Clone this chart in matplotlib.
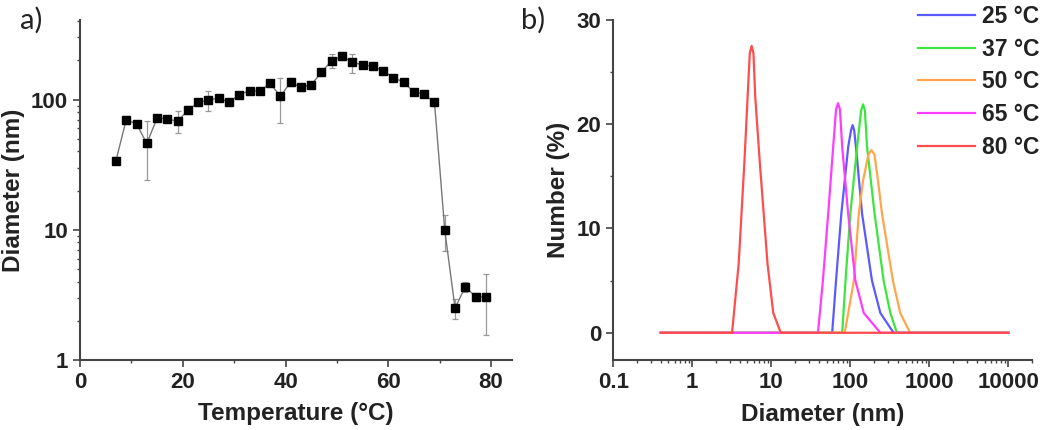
import matplotlib
matplotlib.use("Agg")
import matplotlib.pyplot as plt
from matplotlib.ticker import FixedLocator, LogLocator, NullFormatter, FuncFormatter

plt.rcParams["font.family"] = ["Liberation Sans", "DejaVu Sans"]
plt.rcParams["font.weight"] = "bold"
plt.rcParams["axes.labelweight"] = "bold"

# panel a: hydrodynamic diameter vs temperature
temperature = [7, 9, 11, 13, 15, 17, 19, 21, 23, 25, 27, 29, 31, 33, 35, 37, 39,
               41, 43, 45, 47, 49, 51, 53, 55, 57, 59, 61, 63, 65, 67, 69, 71,
               73, 75, 77, 79]
diameter = [34, 70, 65, 46, 72, 71, 68, 83, 95, 99, 103, 95, 109, 117, 116, 133,
            106, 136, 124, 130, 162, 199, 215, 193, 185, 180, 167, 147, 136, 114,
            110, 95, 9.9, 2.5, 3.65, 3.05, 3.05]
diameter_err = [2, 5, 4, 22, 4, 4, 13, 6, 5, 17, 5, 4, 5, 6, 5, 7, 40, 10, 7, 6,
                10, 25, 15, 32, 8, 7, 7, 6, 6, 5, 5, 5, 3, 0.45, 0.35, 0.2, 1.5]

# panel b: number distributions at selected temperatures
labels = ["25 °C", "37 °C", "50 °C", "65 °C", "80 °C"]
colors = ["#5a5aff", "#3ce63c", "#ffa64d", "#ff3cff", "#ff4d4d"]

size_25 = [0.4, 59, 66, 77, 94, 102, 107, 112, 118, 141, 188, 240, 353, 10000]
num_25 = [0, 0, 5.0, 11.4, 17.8, 19.4, 19.9, 19.4, 17.8, 11.4, 5.0, 1.9, 0, 0]
size_37 = [0.4, 79, 87, 100, 122, 137, 145, 153, 163, 203, 264, 321, 389, 10000]
num_37 = [0, 0, 5.0, 11.4, 17.8, 21.3, 21.9, 21.3, 17.8, 11.4, 5.0, 1.9, 0, 0]
size_50 = [0.4, 85, 111, 128, 145, 170, 185, 202, 224, 252, 346, 428, 572, 10000]
num_50 = [0, 0, 5.0, 11.4, 14.6, 17.1, 17.5, 17.1, 14.6, 11.4, 5.0, 1.9, 0, 0]
size_65 = [0.4, 39, 45, 52.5, 60.7, 66, 70, 74, 79, 94, 116, 148, 240, 10000]
num_65 = [0, 0, 5.0, 11.4, 17.8, 21.4, 22.0, 21.4, 17.8, 11.4, 5.0, 1.9, 0, 0]
size_80 = [0.4, 3.19, 3.87, 4.56, 5.02, 5.35, 5.64, 5.95, 6.27, 7.18, 8.97, 10.6,
           13.2, 10000]
num_80 = [0, 0, 6.6, 16.2, 22.6, 26.8, 27.5, 26.8, 22.6, 16.2, 6.6, 1.9, 0, 0]

sizes = [size_25, size_37, size_50, size_65, size_80]
numbers = [num_25, num_37, num_50, num_65, num_80]

fig = plt.figure(figsize=(10.5, 4.3), dpi=100)
ax_a = fig.add_axes([0.0762, 0.163, 0.411, 0.791])
ax_b = fig.add_axes([0.584, 0.163, 0.399, 0.791])

spine_col = "#444444"
text_col = "#222222"

for ax in (ax_a, ax_b):
    for side in ("top", "right"):
        ax.spines[side].set_visible(False)
    for side in ("left", "bottom"):
        ax.spines[side].set_color(spine_col)
        ax.spines[side].set_linewidth(1.5)
    ax.tick_params(which="major", direction="out", length=5, width=1.2,
                   colors=spine_col, labelcolor=text_col, labelsize=16)
    ax.tick_params(which="minor", direction="out", length=2.5, width=1,
                   colors=spine_col)

# panel a
ax_a.plot(temperature, diameter, color="#777777", linewidth=1.0, zorder=2)
ax_a.errorbar(temperature, diameter, yerr=diameter_err, fmt="none",
              ecolor="#999999", elinewidth=0.9, capsize=2.5, capthick=0.9,
              zorder=1)
ax_a.plot(temperature, diameter, linestyle="none", marker="s", markersize=5.2,
          color="black", zorder=3)
ax_a.set_yscale("log")
ax_a.set_xlim(0, 84)
ax_a.set_ylim(1, 410)
ax_a.xaxis.set_major_locator(FixedLocator([0, 20, 40, 60, 80]))
ax_a.xaxis.set_minor_locator(FixedLocator([10, 30, 50, 70]))
ax_a.yaxis.set_major_locator(FixedLocator([1, 10, 100]))
ax_a.yaxis.set_major_formatter(FuncFormatter(lambda v, p: f"{v:g}"))
ax_a.yaxis.set_minor_locator(LogLocator(base=10, subs=range(2, 10)))
ax_a.yaxis.set_minor_formatter(NullFormatter())
ax_a.set_xlabel("Temperature (°C)", fontsize=17.5, color=text_col)
ax_a.set_ylabel("Diameter (nm)", fontsize=17.5, color=text_col)
ax_a.xaxis.set_label_coords(0.5, -0.124)
ax_a.yaxis.set_label_coords(-0.128, 0.5)

# panel b
for size, num, lab, col in zip(sizes, numbers, labels, colors):
    ax_b.plot(size, num, color=col, linewidth=1.6, label=lab)
ax_b.set_xscale("log")
ax_b.set_xlim(0.1, 20000)
ax_b.set_ylim(-2.6, 30)
ax_b.xaxis.set_major_locator(FixedLocator([0.1, 1, 10, 100, 1000, 10000]))
ax_b.xaxis.set_major_formatter(FuncFormatter(lambda v, p: f"{v:g}"))
ax_b.xaxis.set_minor_locator(LogLocator(base=10, subs=range(2, 10)))
ax_b.xaxis.set_minor_formatter(NullFormatter())
ax_b.yaxis.set_major_locator(FixedLocator([0, 10, 20, 30]))
ax_b.yaxis.set_minor_locator(FixedLocator([5, 15, 25]))
ax_b.set_xlabel("Diameter (nm)", fontsize=17.5, color=text_col)
ax_b.set_ylabel("Number (%)", fontsize=17.5, color=text_col)
ax_b.xaxis.set_label_coords(0.5, -0.127)
ax_b.yaxis.set_label_coords(-0.103, 0.5)

leg = ax_b.legend(loc="upper left", bbox_to_anchor=(0.874, 0.988),
                  bbox_transform=fig.transFigure, frameon=False, fontsize=16.5,
                  handlelength=2.5, handletextpad=0.3, labelspacing=0.42,
                  borderpad=0, borderaxespad=0)
for t in leg.get_texts():
    t.set_color(text_col)

fig.text(0.019, 0.985, "a)", family="Lato", fontweight="normal", fontsize=21,
         color=text_col, va="top", ha="left")
fig.text(0.496, 0.985, "b)", family="Lato", fontweight="normal", fontsize=21,
         color=text_col, va="top", ha="left")

fig.savefig("out.png", dpi=100)
